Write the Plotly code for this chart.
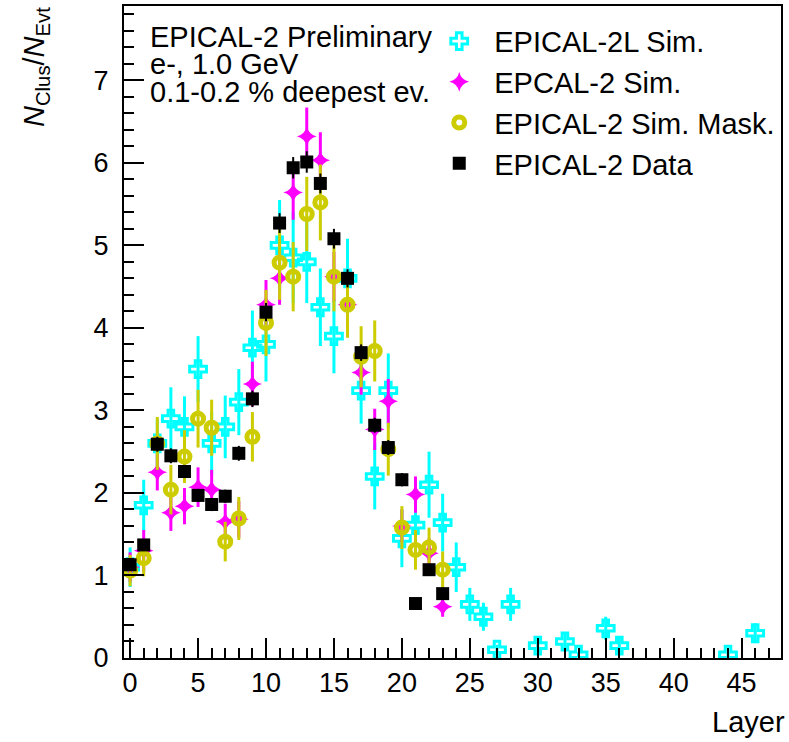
import plotly.graph_objects as go

# ---- data ----
layers_cyan = [0, 1, 2, 3, 4, 5, 6, 7, 8, 9, 10, 11, 12, 13, 14, 15, 16, 17, 18, 19, 20, 21, 22, 23, 24,
               25, 26, 27, 28, 30, 32, 33, 35, 36, 44, 46]
cyan_vals = [1.10, 1.85, 2.60, 2.90, 2.80, 3.50, 2.60, 2.80, 3.10, 3.76, 3.80, 5.00, 4.85, 4.80, 4.25, 3.90,
             4.60, 3.24, 2.20, 3.24, 1.45, 1.61, 2.10, 1.64, 1.10,
             0.65, 0.50, 0.10, 0.65, 0.15, 0.20, 0.04, 0.36, 0.15, 0.04, 0.30]
cyan_errs = [0.24, 0.31, 0.30, 0.38, 0.37, 0.40, 0.38, 0.38, 0.40, 0.45, 0.45, 0.55, 0.55, 0.50, 0.47, 0.45,
             0.48, 0.40, 0.40, 0.45, 0.35, 0.37, 0.40, 0.35, 0.30,
             0.20, 0.17, 0.06, 0.20, 0.08, 0.10, 0.03, 0.14, 0.10, 0.03, 0.12]

layers_sim = list(range(0, 24))
magenta_vals = [1.10, 1.30, 2.25, 1.76, 1.84, 2.07, 2.04, 1.65, 1.68, 3.32, 4.28, 4.60, 5.64, 6.32, 6.03, 4.62,
                4.28, 3.46, 2.77, 3.11, 1.60, 1.98, 1.27, 0.62]
magenta_errs = [0.18, 0.25, 0.22, 0.22, 0.22, 0.24, 0.24, 0.22, 0.22, 0.27, 0.30, 0.32, 0.33, 0.35, 0.34, 0.30,
                0.30, 0.27, 0.25, 0.27, 0.20, 0.22, 0.18, 0.12]

yellow_vals = [1.06, 1.21, 2.60, 2.04, 2.44, 2.90, 2.79, 1.41, 1.69, 2.68, 4.06, 4.79, 4.62, 5.38, 5.52, 4.62,
               4.28, 3.65, 3.72, 2.53, 1.58, 1.31, 1.34, 1.07]
yellow_errs = [0.19, 0.22, 0.32, 0.30, 0.32, 0.35, 0.34, 0.24, 0.26, 0.30, 0.40, 0.45, 0.42, 0.45, 0.46, 0.42,
               0.40, 0.37, 0.37, 0.32, 0.26, 0.24, 0.24, 0.22]

layers_data = list(range(0, 24))
data_vals = [1.13, 1.37, 2.59, 2.45, 2.26, 1.97, 1.86, 1.96, 2.48, 3.14, 4.19, 5.27, 5.94, 6.01, 5.75, 5.08,
             4.60, 3.70, 2.82, 2.55, 2.16, 0.66, 1.07, 0.78]
data_errs = [0.06, 0.07, 0.09, 0.09, 0.08, 0.08, 0.08, 0.08, 0.09, 0.10, 0.11, 0.12, 0.13, 0.13, 0.12, 0.12,
             0.11, 0.10, 0.09, 0.09, 0.08, 0.05, 0.06, 0.05]

names = ["EPICAL-2L Sim.", "EPCAL-2 Sim.", "EPICAL-2 Sim. Mask.", "EPICAL-2 Data"]
info_lines = ["EPICAL-2 Preliminary", "e-, 1.0 GeV", "0.1-0.2 % deepest ev."]

CYAN = "#00FFFF"
MAGENTA = "#FF00FF"
YELLOW = "#CCCC00"
BLACK = "#000000"
FONT = "Liberation Sans, Arial, sans-serif"

fig = go.Figure()

fig.add_trace(go.Scatter(
    x=layers_cyan, y=cyan_vals, mode="markers", name=names[0],
    marker=dict(symbol="cross-open", size=14, color=CYAN, line=dict(color=CYAN, width=3)),
    error_y=dict(type="data", array=cyan_errs, color=CYAN, thickness=3, width=0),
))
fig.add_trace(go.Scatter(
    x=layers_sim, y=magenta_vals, mode="markers", name=names[1],
    marker=dict(symbol="star-diamond", size=14, color=MAGENTA, line=dict(color=MAGENTA, width=0)),
    error_y=dict(type="data", array=magenta_errs, color=MAGENTA, thickness=3, width=0),
))
fig.add_trace(go.Scatter(
    x=layers_sim, y=yellow_vals, mode="markers", name=names[2],
    marker=dict(symbol="circle-open", size=11, color=YELLOW, line=dict(color=YELLOW, width=5)),
    error_y=dict(type="data", array=yellow_errs, color=YELLOW, thickness=3, width=0),
))
fig.add_trace(go.Scatter(
    x=layers_data, y=data_vals, mode="markers", name=names[3],
    marker=dict(symbol="square", size=13, color=BLACK),
    error_y=dict(type="data", array=data_errs, color=BLACK, thickness=2, width=0),
))

for i, line in enumerate(info_lines):
    fig.add_annotation(
        text=line, xref="paper", yref="paper",
        x=0.036, y=1 - (37 + 27.5 * i - 6) / 652, xanchor="left", yanchor="middle",
        showarrow=False, font=dict(family=FONT, size=29, color="black"),
    )

fig.add_annotation(
    text="<i>N</i><sub>Clus</sub>/<i>N</i><sub>Evt</sub>", xref="paper", yref="paper",
    x=-0.135, y=1.002, xanchor="center", yanchor="top", textangle=-90,
    showarrow=False, font=dict(family=FONT, size=29, color="black"),
)
fig.add_annotation(
    text="Layer", xref="paper", yref="paper",
    x=1.0095, y=-0.098, xanchor="right", yanchor="middle",
    showarrow=False, font=dict(family=FONT, size=29, color="black"),
)

axis_common = dict(
    showline=True, linecolor="black", linewidth=2, mirror=True,
    ticks="inside", ticklen=20, tickwidth=2, tickcolor="black",
    showgrid=False, zeroline=False, automargin=False,
    tickfont=dict(family=FONT, size=27, color="black"),
)

fig.update_xaxes(
    range=[-0.45, 47.9], tick0=0, dtick=5,
    minor=dict(ticks="inside", ticklen=10, tickwidth=2, tickcolor="black", dtick=1, tick0=0, showgrid=False),
    **axis_common,
)
fig.update_yaxes(
    range=[0, 7.9], tick0=0, dtick=1, ticklabelstandoff=8,
    minor=dict(ticks="inside", ticklen=10, tickwidth=2, tickcolor="black", dtick=0.2, tick0=0, showgrid=False),
    **axis_common,
)

fig.update_layout(
    width=789, height=742,
    margin=dict(l=124, r=8, t=6, b=84, autoexpand=False),
    paper_bgcolor="white", plot_bgcolor="white",
    showlegend=True,
    legend=dict(
        x=0.457, y=0.985, xanchor="left", yanchor="top",
        font=dict(family=FONT, size=29, color="black"),
        bgcolor="rgba(0,0,0,0)", borderwidth=0,
        itemsizing="trace", itemwidth=60,
    ),
)

fig.write_html("out.html", config={"displayModeBar": False},
               post_script="document.body.style.margin='0px';")
